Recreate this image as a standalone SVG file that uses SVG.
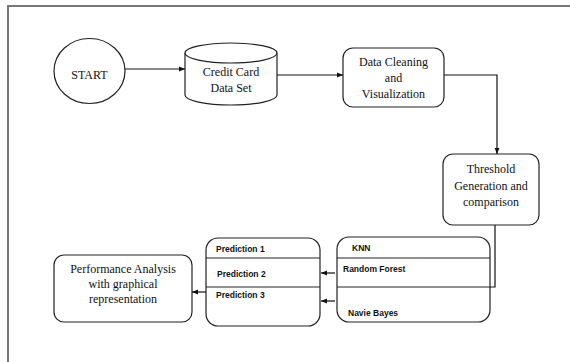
<svg xmlns="http://www.w3.org/2000/svg" width="570" height="362" viewBox="0 0 570 362">
<style>
.s{fill:#fff;stroke:#222;stroke-width:1.2}
.t{font-family:"Liberation Serif","Times New Roman",serif;font-size:12px;fill:#111;text-anchor:middle}
.b{font-family:"Liberation Sans",Arial,sans-serif;font-size:8.5px;font-weight:bold;fill:#111}
.c{fill:none;stroke:#111;stroke-width:1.2}
.d{stroke:#222;stroke-width:1}
</style>
<defs>
<marker id="ah" viewBox="0 0 10 10" refX="10" refY="5" markerWidth="6" markerHeight="6" markerUnits="userSpaceOnUse" orient="auto">
<path d="M0,1 L10,5 L0,9 z" fill="#111"/>
</marker>
</defs>
<rect width="570" height="362" fill="#fff"/>
<path d="M570,6 H8 V362" fill="none" stroke="#777" stroke-width="2"/>
<g id="start">
<ellipse cx="89.5" cy="71" rx="35.5" ry="32.5" class="s" stroke="#444"/>
<text x="89.5" y="79" class="t">START</text>
</g>
<g id="dataset">
<path d="M185,53 V95 A46,10 0 0 0 277,95 V53" class="s"/>
<ellipse cx="231" cy="53" rx="46" ry="10" class="s"/>
<text x="231" y="76" class="t">Credit Card</text>
<text x="231" y="92" class="t">Data Set</text>
</g>
<g id="cleaning">
<rect x="343" y="48" width="101" height="59" rx="10" class="s"/>
<text x="393.5" y="66" class="t">Data Cleaning</text>
<text x="393.5" y="82" class="t">and</text>
<text x="393.5" y="98" class="t">Visualization</text>
</g>
<g id="threshold">
<rect x="443" y="154" width="96" height="71" rx="10" class="s"/>
<text x="491" y="173" class="t">Threshold</text>
<text x="491" y="190" class="t">Generation and</text>
<text x="491" y="206" class="t">comparison</text>
</g>
<g id="algorithms">
<rect x="337" y="237" width="153" height="85" rx="12" class="s"/>
<line x1="337" y1="258" x2="490" y2="258" class="d"/>
<line x1="337" y1="287" x2="490" y2="287" class="d"/>
<text x="352" y="251" class="b">KNN</text>
<text x="343" y="272" class="b">Random Forest</text>
<text x="348" y="316" class="b">Navie Bayes</text>
</g>
<g id="predictions">
<rect x="206" y="238" width="114" height="88" rx="12" class="s"/>
<line x1="206" y1="258" x2="320" y2="258" class="d"/>
<line x1="206" y1="287" x2="320" y2="287" class="d"/>
<text x="216" y="252" class="b">Prediction 1</text>
<text x="217" y="277" class="b">Prediction 2</text>
<text x="216" y="298" class="b">Prediction 3</text>
</g>
<g id="performance">
<rect x="54" y="255" width="138" height="67" rx="10" class="s"/>
<text x="123" y="273" class="t">Performance Analysis</text>
<text x="123" y="288" class="t">with graphical</text>
<text x="123" y="303" class="t">representation</text>
</g>
<g id="connectors">
<line x1="125" y1="69" x2="185" y2="69" class="c" marker-end="url(#ah)"/>
<line x1="277" y1="75" x2="343" y2="75" class="c" marker-end="url(#ah)"/>
<polyline points="444,75 497,75 497,154" class="c" marker-end="url(#ah)"/>
<polyline points="495,225 495,287 490,287" class="c"/>
<line x1="335" y1="273" x2="321" y2="273" class="c" marker-end="url(#ah)"/>
<line x1="335" y1="301" x2="321" y2="301" class="c" marker-end="url(#ah)"/>
<line x1="206" y1="292" x2="192" y2="292" class="c" marker-end="url(#ah)"/>
</g>
</svg>
